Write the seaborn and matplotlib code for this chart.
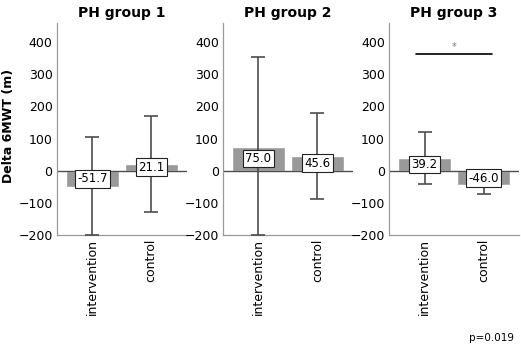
import matplotlib
matplotlib.use("Agg")
import matplotlib.pyplot as plt
import seaborn as sns
import numpy as np

# values
groups = ["PH group 1", "PH group 2", "PH group 3"]
arms = ["intervention", "control"]
means = [[-51.7, 21.1], [75.0, 45.6], [39.2, -46.0]]
err_low = [[-200, -128], [-200, -89], [-40, -72]]
err_high = [[106, 170], [353, 178], [119, -22]]
sig_y = 362
p_text = "p=0.019"

sns.set_style("white")
plt.rcParams['font.family'] = ['DejaVu Sans']
plt.rcParams['text.color'] = 'black'
plt.rcParams['xtick.color'] = 'black'
plt.rcParams['ytick.color'] = 'black'

fig = plt.figure(figsize=(5.21, 3.46), dpi=100)
lefts = [0.109, 0.428, 0.747]

for i, grp in enumerate(groups):
    ax = fig.add_axes([lefts[i], 0.321, 0.249, 0.613])
    sns.barplot(x=arms, y=means[i], color="#999999", saturation=1, width=0.9,
                errorbar=None, ax=ax)
    m = np.array(means[i])
    yerr = [m - np.array(err_low[i]), np.array(err_high[i]) - m]
    ax.errorbar(range(len(arms)), m, yerr=yerr, fmt="none", ecolor="#4d4d4d",
                elinewidth=1.2, capsize=5, capthick=1.2, zorder=3)
    ax.axhline(0, color="#4d4d4d", lw=1, zorder=2)
    for j, v in enumerate(m):
        ax.text(j, v / 2, f"{v:.1f}", ha="center", va="center", fontsize=8.5,
                zorder=5,
                bbox=dict(boxstyle="square,pad=0.2", fc="white", ec="#222222", lw=0.8))
    ax.set_xlim(-0.6, 1.6)
    ax.set_ylim(-200, 460)
    ax.set_yticks([-200, -100, 0, 100, 200, 300, 400])
    ax.tick_params(axis="both", length=0, labelsize=9, pad=3)
    ax.tick_params(axis="x", rotation=90)
    for lab in ax.get_xticklabels():
        lab.set_va("top")
    for s in ["top", "right"]:
        ax.spines[s].set_visible(False)
    for s in ["left", "bottom"]:
        ax.spines[s].set_color("#999999")
        ax.spines[s].set_linewidth(0.9)
    ax.set_title(grp, fontsize=10, fontweight="bold", pad=4)
    ax.set_xlabel("")
    ax.set_ylabel("")

    if i == 2:
        ax.plot([-0.15, 1.15], [sig_y, sig_y], color="black", lw=1.2)
        ax.text(0.5, sig_y + 8, "*", ha="center", va="bottom", fontsize=7, color="#777777")

fig.text(0.017, 0.636, "Delta 6MWT (m)", rotation=90, ha="center", va="center",
         fontsize=9, fontweight="bold")
fig.text(0.944, 0.023, p_text, ha="center", va="center", fontsize=7.5)

fig.savefig("out.png", dpi=100)
